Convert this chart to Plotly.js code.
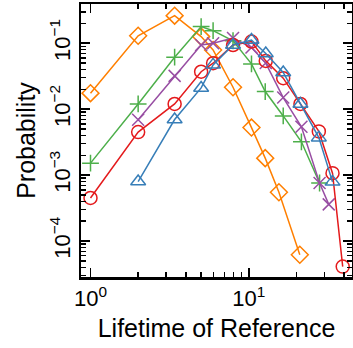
<!DOCTYPE html>
<html><head><meta charset="utf-8">
<script src="https://cdn.plot.ly/plotly-3.0.1.min.js"></script>
<style>html,body{margin:0;padding:0;background:#fff}#c{width:353px;height:348px}</style>
</head><body><div id="c"></div>
<script>
// Series data
const orangeX = [1, 2, 3.4, 5, 5.95, 7.95, 10.4, 12.7, 15.5, 21.0];
const orangeY = [0.0175, 0.13, 0.262, 0.126, 0.079, 0.0215, 0.00526, 0.00181, 0.00055, 0.000062];

const greenX = [1, 2, 3.4, 5, 5.95, 7.95, 10.4, 12.7, 16.5, 21.5, 28];
const greenY = [0.00152, 0.012, 0.0614, 0.179, 0.155, 0.109, 0.0486, 0.0185, 0.0079, 0.0032, 0.00076];

const purpleX = [2, 3.4, 5, 5.95, 7.95, 10.4, 12.8, 16.5, 21.5, 28, 32];
const purpleY = [0.0069, 0.032, 0.094, 0.10, 0.12, 0.086, 0.05, 0.015, 0.0054, 0.00076, 0.00036];

const redX = [1, 2, 3.4, 5, 5.95, 7.95, 10.4, 12.8, 16.5, 21.2, 27.7, 33.8, 39.2];
const redY = [0.00045, 0.00449, 0.012, 0.037, 0.0498, 0.094, 0.106, 0.054, 0.0295, 0.012, 0.0046, 0.00107, 0.000041];

const blueX = [2, 3.4, 5, 5.95, 7.95, 10.4, 12.8, 16.5, 21.2, 27.7, 33.8];
const blueY = [0.0008, 0.00697, 0.021, 0.047, 0.094, 0.112, 0.070, 0.036, 0.012, 0.0037, 0.00079];

// Tick positions and labels
const xMajorVals = [1, 10];
const xMajorText = ['10<sup>0</sup>', '10<sup>1</sup>'];
const xMinorVals = [2, 3, 4, 5, 6, 7, 8, 9, 20, 30, 40];
const yMajorVals = [1e-4, 1e-3, 1e-2, 1e-1];
const yMajorText = ['10<sup>\u22124</sup>', '10<sup>\u22123</sup>', '10<sup>\u22122</sup>', '10<sup>\u22121</sup>'];
const yMinorVals = [3e-5, 4e-5, 5e-5, 6e-5, 7e-5, 8e-5, 9e-5,
  2e-4, 3e-4, 4e-4, 5e-4, 6e-4, 7e-4, 8e-4, 9e-4,
  2e-3, 3e-3, 4e-3, 5e-3, 6e-3, 7e-3, 8e-3, 9e-3,
  2e-2, 3e-2, 4e-2, 5e-2, 6e-2, 7e-2, 8e-2, 9e-2,
  2e-1, 3e-1];

const mk = (x, y, color, symbol, size) => ({
  x: x, y: y, type: 'scatter', mode: 'lines+markers',
  line: {color: color, width: 1.5},
  marker: {symbol: symbol, size: size, color: color, line: {color: color, width: 1.5}},
  showlegend: false, cliponaxis: false
});

const data = [
  mk(orangeX, orangeY, '#ff7f00', 'diamond-open', 13),
  mk(greenX, greenY, '#4daf4a', 'cross-thin-open', 12),
  mk(purpleX, purpleY, '#984ea3', 'x-thin-open', 12),
  mk(redX, redY, '#e41a1c', 'circle-open', 13),
  mk(blueX, blueY, '#377eb8', 'triangle-up-open', 13),
  // empty trace so the minor-tick overlay axes are drawn
  {x: [], y: [], type: 'scatter', mode: 'markers', xaxis: 'x2', yaxis: 'y2', showlegend: false, hoverinfo: 'skip'}
];

const XR = [-0.06, 1.652], YR = [-4.545, -0.405];
const fontFam = '"Liberation Sans", Arial, sans-serif';
const common = {
  type: 'log', showgrid: false, zeroline: false,
  showline: true, linewidth: 2.5, linecolor: '#000', mirror: 'allticks',
  ticks: 'inside', tickwidth: 1.5, tickcolor: '#000', tickmode: 'array'
};
const layout = {
  width: 353, height: 348,
  margin: {l: 81, r: 1, t: 4, b: 71},
  paper_bgcolor: '#fff', plot_bgcolor: '#fff',
  font: {family: fontFam, size: 22, color: '#000'},
  xaxis: Object.assign({}, common, {
    range: XR, tickvals: xMajorVals, ticktext: xMajorText, ticklen: 9,
    tickfont: {size: 22},
    title: {text: 'Lifetime of Reference', font: {size: 25}, standoff: 10}
  }),
  yaxis: Object.assign({}, common, {
    range: YR, tickvals: yMajorVals, ticktext: yMajorText, ticklen: 9,
    tickangle: -90, tickfont: {size: 22},
    title: {text: 'Probability', font: {size: 25}, standoff: 4}
  }),
  xaxis2: Object.assign({}, common, {
    range: XR, tickvals: xMinorVals, ticktext: xMinorVals.map(() => ''), ticklen: 5,
    overlaying: 'x', anchor: 'y2', side: 'bottom', showticklabels: false
  }),
  yaxis2: Object.assign({}, common, {
    range: YR, tickvals: yMinorVals, ticktext: yMinorVals.map(() => ''), ticklen: 5,
    overlaying: 'y', anchor: 'x2', side: 'left', showticklabels: false
  })
};
Plotly.newPlot('c', data, layout, {staticPlot: true, displayModeBar: false});
</script></body></html>
